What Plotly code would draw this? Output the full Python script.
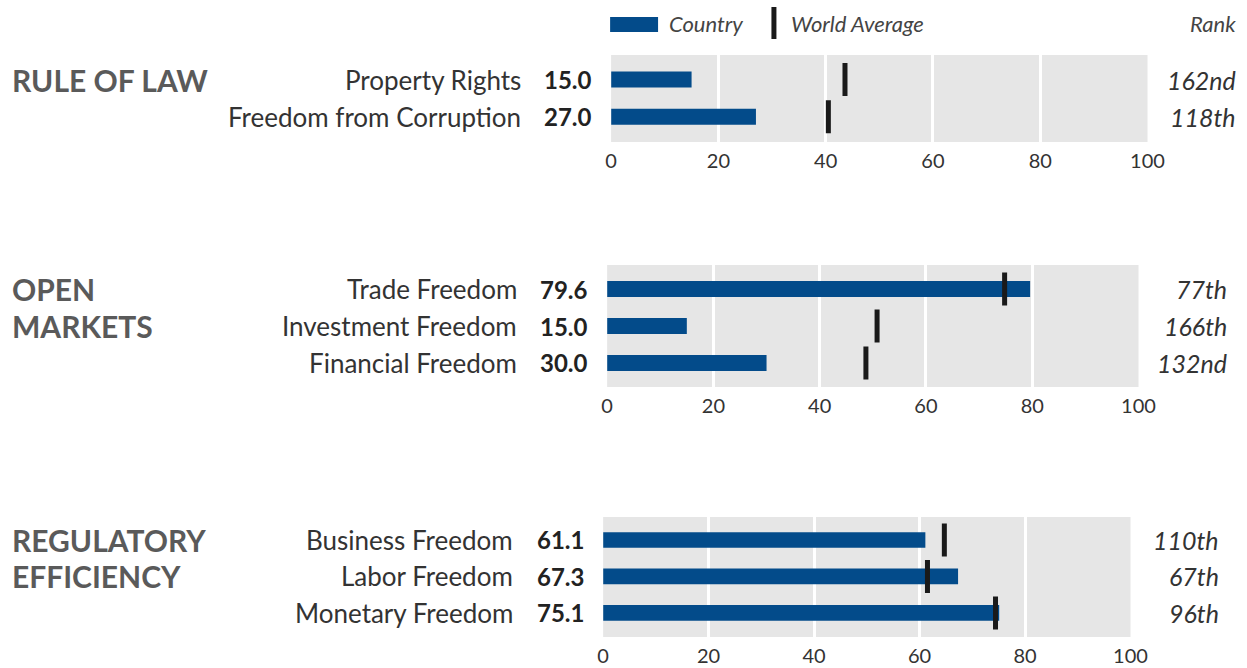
import plotly.graph_objects as go

W, H = 1247, 668

# ---- data ----
rule_labels = ["Property Rights", "Freedom from Corruption"]
rule_scores = [15.0, 27.0]
rule_world = [43.6, 40.5]
rule_ranks = ["162nd", "118th"]

market_labels = ["Trade Freedom", "Investment Freedom", "Financial Freedom"]
market_scores = [79.6, 15.0, 30.0]
market_world = [74.8, 50.8, 48.7]
market_ranks = ["77th", "166th", "132nd"]

reg_labels = ["Business Freedom", "Labor Freedom", "Monetary Freedom"]
reg_scores = [61.1, 67.3, 75.1]
reg_world = [64.7, 61.5, 74.4]
reg_ranks = ["110th", "67th", "96th"]

section_titles = [["RULE OF LAW"], ["OPEN", "MARKETS"], ["REGULATORY", "EFFICIENCY"]]
x_ticks = [0, 20, 40, 60, 80, 100]

# ---- styling ----
FONT = "Lato"
BAR_BLUE = "#034b8a"
AVG_BLACK = "#1a1a1a"
PANEL_BG = "#e6e6e6"
TEXT = "#333333"
TITLE_GRAY = "#5a5a5a"

# pixel boxes of the three panels: (left, right, top, bottom), y range
panels = [
    dict(labels=rule_labels, scores=rule_scores, world=rule_world, ranks=rule_ranks,
         box=(610, 1147, 55, 142), yrange=[1.68, -0.66]),
    dict(labels=market_labels, scores=market_scores, world=market_world, ranks=market_ranks,
         box=(606, 1138, 265, 387), yrange=[2.65, -0.65]),
    dict(labels=reg_labels, scores=reg_scores, world=reg_world, ranks=reg_ranks,
         box=(602, 1130, 517, 637), yrange=[2.66, -0.63]),
]

# horizontal correction: the captured page came out slightly narrower than asked
FIG_W = 1270
SHIFT, SQUEEZE = 4.2, 0.983


def px_x(p):
    return (p - SHIFT) / SQUEEZE / FIG_W


def px_y(p):
    return 1 - p / H


fig = go.Figure()
annotations = []
shapes = []

for i, panel in enumerate(panels):
    n = i + 1
    sx = "" if n == 1 else str(n)
    xa, ya = "x" + sx, "y" + sx
    left, right, top, bottom = panel["box"]
    rows = list(range(len(panel["labels"])))

    fig.add_trace(go.Bar(
        x=panel["scores"], y=rows, orientation="h", width=0.43,
        marker=dict(color=BAR_BLUE, line=dict(width=0)),
        xaxis=xa, yaxis=ya, showlegend=False, hoverinfo="skip",
    ))
    # line-ns draws 1.4 x size, so 23.5 gives a ~33px tick
    fig.add_trace(go.Scatter(
        x=panel["world"], y=rows, mode="markers",
        marker=dict(symbol="line-ns", size=23.5, line=dict(color=AVG_BLACK, width=5)),
        xaxis=xa, yaxis=ya, showlegend=False, hoverinfo="skip",
    ))

    fig.layout["xaxis" + sx] = dict(
        domain=[px_x(left), px_x(right)], anchor=ya, range=[0, 100],
        tickvals=x_ticks, showgrid=True, gridcolor="white", gridwidth=3,
        zeroline=False, showline=False, ticks="", fixedrange=True,
        ticklabelstandoff=5,
        tickfont=dict(family=FONT, size=20, color=TEXT),
    )
    fig.layout["yaxis" + sx] = dict(
        domain=[px_y(bottom), px_y(top)], anchor=xa, range=panel["yrange"],
        showgrid=False, zeroline=False, showticklabels=False, fixedrange=True,
    )
    shapes.append(dict(type="rect", xref=xa + " domain", yref=ya + " domain",
                       x0=0, x1=1, y0=0, y1=1, fillcolor=PANEL_BG,
                       line=dict(width=0), layer="below"))

    for r, (lab, val, rank) in enumerate(zip(panel["labels"], panel["scores"], panel["ranks"])):
        annotations.append(dict(x=px_x(left - 88), y=r, xref="paper", yref=ya,
                                text=lab, showarrow=False, xanchor="right", yanchor="middle",
                                font=dict(family=FONT, size=26, color=TEXT)))
        annotations.append(dict(x=px_x(left - 17), y=r, xref="paper", yref=ya,
                                text=f"<b>{val:.1f}</b>", showarrow=False,
                                xanchor="right", yanchor="middle",
                                font=dict(family=FONT, size=24, color="#222222")))
        annotations.append(dict(x=px_x(right + 91), y=r, xref="paper", yref=ya,
                                text=f"<i>{rank}</i>", showarrow=False,
                                xanchor="right", yanchor="middle",
                                font=dict(family=FONT, size=25, color=TEXT)))

    for r, line in enumerate(section_titles[i]):
        annotations.append(dict(x=px_x(8), y=r, xref="paper", yref=ya,
                                text=f"<b>{line}</b>", showarrow=False,
                                xanchor="left", yanchor="middle",
                                font=dict(family=FONT, size=30, color=TITLE_GRAY)))

# legend drawn by hand at the top
shapes.append(dict(type="rect", xref="paper", yref="paper",
                   x0=px_x(609), x1=px_x(657), y0=px_y(32), y1=px_y(17),
                   fillcolor=BAR_BLUE, line=dict(width=0)))
shapes.append(dict(type="line", xref="paper", yref="paper",
                   x0=px_x(773), x1=px_x(773), y0=px_y(39), y1=px_y(7),
                   line=dict(color=AVG_BLACK, width=5)))
for txt, xpos, anchor in [("Country", 666, "left"), ("World Average", 788, "left"),
                          ("Rank", 1238, "right")]:
    annotations.append(dict(x=px_x(xpos), y=px_y(24), xref="paper", yref="paper",
                            text=f"<i>{txt}</i>", showarrow=False,
                            xanchor=anchor, yanchor="middle",
                            font=dict(family=FONT, size=22, color="#444444")))

fig.update_layout(
    width=FIG_W, height=H,
    margin=dict(l=0, r=0, t=0, b=0),
    paper_bgcolor="white", plot_bgcolor="rgba(0,0,0,0)",
    barmode="overlay", showlegend=False,
    annotations=annotations, shapes=shapes,
    font=dict(family=FONT, color=TEXT),
)

fig.write_html("out.html",
               config={"displayModeBar": False},
               post_script="document.body.style.margin='0';document.body.style.overflow='hidden';")
